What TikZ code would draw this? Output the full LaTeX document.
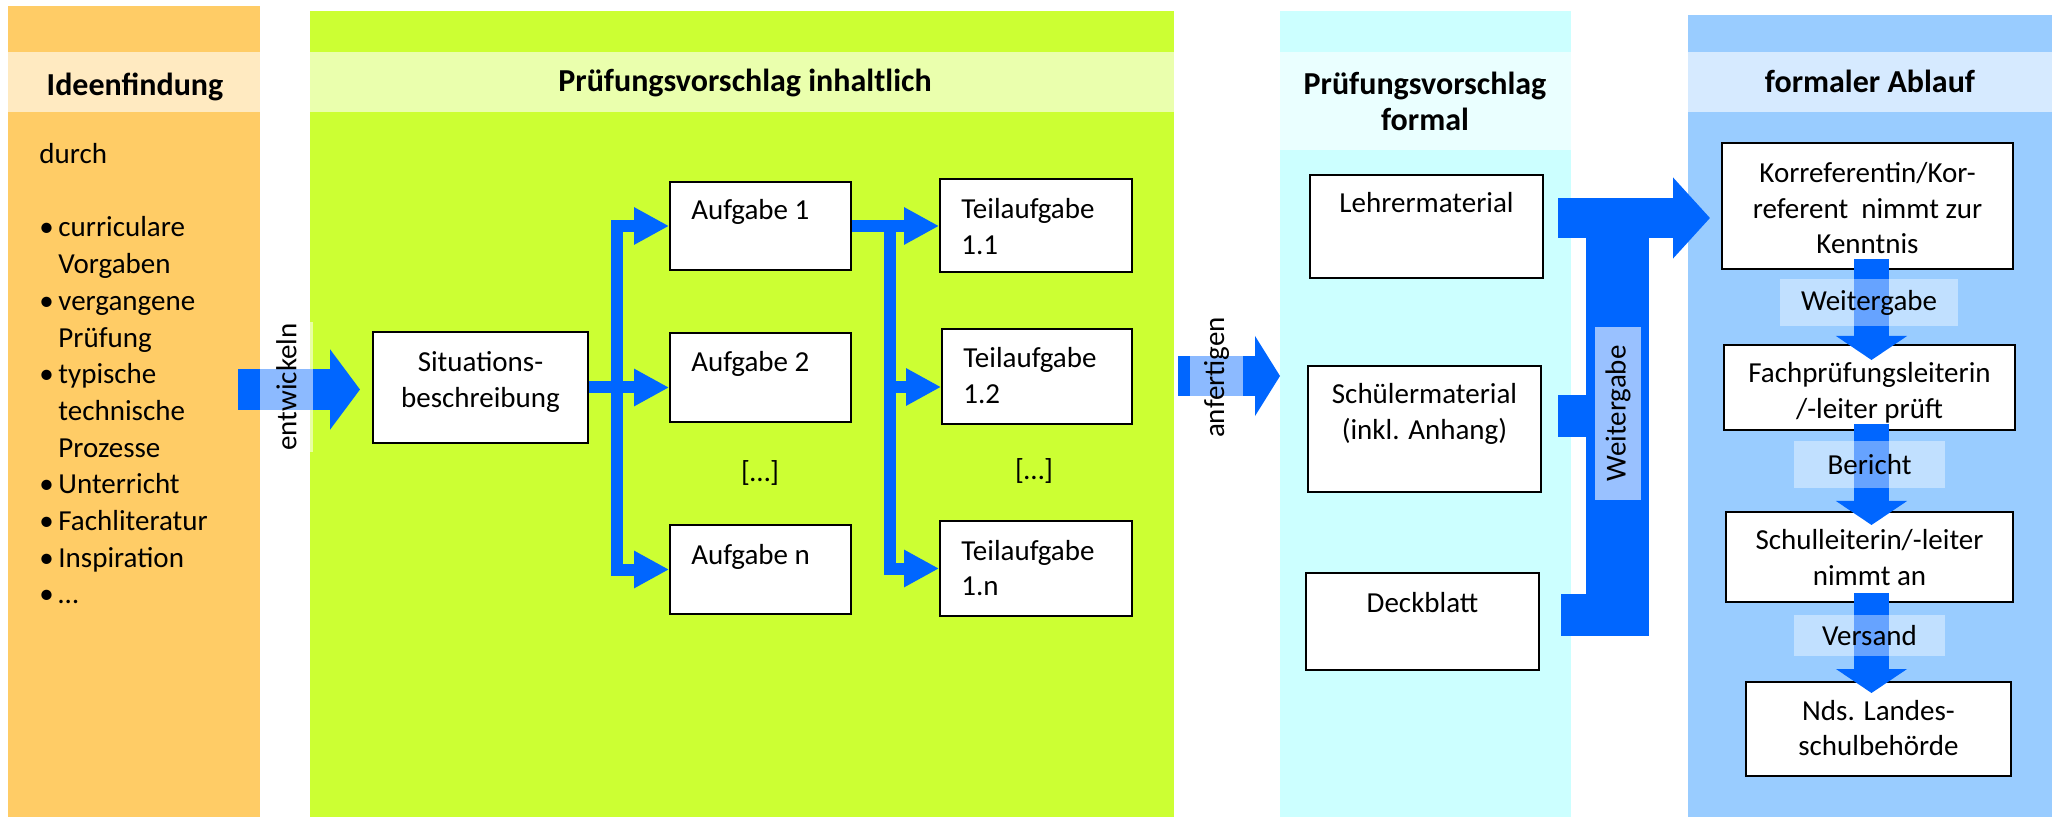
\documentclass[tikz,border=0pt]{standalone}
\usepackage{fontspec}
\setmainfont{Carlito}
\usetikzlibrary{arrows.meta,calc,fit}
\definecolor{colorange}{HTML}{FFCC66}
\definecolor{colgreen}{HTML}{CCFF33}
\definecolor{colcyan}{HTML}{CCFFFF}
\definecolor{colblue}{HTML}{99CCFF}
\definecolor{ablue}{HTML}{0066FF}
\newcommand{\mlc}[1]{\begin{tabular}[t]{@{}c@{}}#1\end{tabular}}
\newcommand{\mll}[1]{\begin{tabular}[t]{@{}l@{}}#1\end{tabular}}
\begin{document}
\begin{tikzpicture}[x=0.5pt,y=-0.5pt,
  body/.style={font=\fontsize{14.5pt}{17.6pt}\selectfont, inner sep=0pt},
  listtxt/.style={font=\fontsize{14.5pt}{18.35pt}\selectfont, inner sep=0pt},
  head/.style={font=\fontsize{16pt}{18pt}\selectfont\bfseries, inner sep=0pt},
  box/.style={draw=black, line width=0.9pt, fill=white, inner sep=0pt},
  band/.style={fill=white, fill opacity=0.6},
  lblbox/.style={fill=white, text opacity=1, inner sep=0pt, draw=none,
    font=\fontsize{14.5pt}{17.6pt}\selectfont},
  thinarrow/.style={draw=ablue, line width=6pt, line join=miter,
    -{Triangle[width=17.5pt,length=17.5pt]}},
  bigarrow/.style={draw=ablue, line width=20pt},
  downarrow/.style={draw=ablue, line width=17.5pt,
    -{Triangle[width=35pt,length=12pt]}}
]
\useasboundingbox (0,0) rectangle (2060,817);
\fill[white] (0,0) rectangle (2060,817);

% columns
\fill[colorange] (8,6) rectangle (260,817);
\fill[colgreen] (310,11) rectangle (1174,817);
\fill[colcyan] (1280,11) rectangle (1571,817);
\fill[colblue] (1688,15) rectangle (2052,817);

% header bands
\fill[band] (8,52) rectangle (260,112);
\fill[band] (310,52) rectangle (1174,112);
\fill[band] (1280,52) rectangle (1571,150);
\fill[band] (1688,52) rectangle (2052,112);

% headings
\node[head, anchor=base] (h1) at (135,96) {Ideenfindung};
\node[head, anchor=base] (h2) at (745,92) {Prüfungsvorschlag inhaltlich};
\node[head, anchor=base] (h3) at (1425,95) {\mlc{Prüfungsvorschlag\\formal}};
\node[head, anchor=base] (h4) at (1870,93) {formaler Ablauf};

% left column text
\node[listtxt, anchor=base west] (durch) at (39,164) {durch};
\node[listtxt, anchor=base west] (ideas) at (39,237) {\begin{tabular}[t]{@{}l@{\hspace{2.3pt}}l@{}}
\textbullet & curriculare\\ & Vorgaben\\
\textbullet & vergangene\\ & Prüfung\\
\textbullet & typische\\ & technische\\ & Prozesse\\
\textbullet & Unterricht\\
\textbullet & Fachliteratur\\
\textbullet & Inspiration\\
\textbullet & …\end{tabular}};

% boxes
\node[box, fit={(373,332)(588,443)}] (sit) {};
\node[box, fit={(670,182)(851,270)}] (a1) {};
\node[box, fit={(670,333)(851,422)}] (a2) {};
\node[box, fit={(670,525)(851,614)}] (an) {};
\node[box, fit={(940,179)(1132,272)}] (t11) {};
\node[box, fit={(942,329)(1132,424)}] (t12) {};
\node[box, fit={(940,521)(1132,616)}] (t1n) {};
\node[box, fit={(1310,175)(1543,278)}] (lehrer) {};
\node[box, fit={(1308,366)(1541,492)}] (schueler) {};
\node[box, fit={(1306,573)(1539,670)}] (deck) {};
\node[box, fit={(1722,143)(2013,269)}] (kor) {};
\node[box, fit={(1724,345)(2015,430)}] (fach) {};
\node[box, fit={(1726,512)(2013,602)}] (schul) {};
\node[box, fit={(1746,682)(2011,776)}] (nds) {};

% thin arrows in the green column
\draw[thinarrow] (sit.east) -- (sit.east -| a2.west);
\draw[thinarrow] (sit.east) -- ++(28,0) |- (a1.west);
\draw[thinarrow] (sit.east) -- ++(28,0) |- (an.west);
\draw[thinarrow] (a1.east) -- (a1.east -| t11.west);
\draw[thinarrow] (a1.east) -- ++(38,0) |- (t1n.west);
\coordinate (tr12) at (889,387);
\draw[thinarrow] (tr12) -- (tr12 -| t12.west);

% block arrows
\coordinate (ent-a) at (238,389.5);
\coordinate (ent-b) at (360,389.5);
\draw[bigarrow, line width=20.5pt, -{Triangle[width=39.5pt,length=15pt]}] (ent-a) -- (ent-b);
\coordinate (anf-a) at (1178,376);
\coordinate (anf-b) at (1280,376);
\draw[bigarrow, -{Triangle[width=39.5pt,length=12.5pt]}] (anf-a) -- (anf-b);
\coordinate (wt-a) at (1558,218);
\coordinate (wt-b) at (1710,218);
\draw[bigarrow, -{Triangle[width=39.5pt,length=18.5pt]}] (wt-a) -- (wt-b);
\fill[ablue] (1586,198) rectangle (1649,636);
\fill[ablue] (1558,395) rectangle (1586,437);
\fill[ablue] (1561,594) rectangle (1586,636);

\draw[downarrow] (1871.5,259) -- (1871.5,360);
\draw[downarrow] (1871.5,424) -- (1871.5,525);
\draw[downarrow] (1871.5,593) -- (1871.5,693);

% labels on arrows
\node[lblbox, rotate=90, fill opacity=0.55, minimum width=65pt, minimum height=26.5pt] (entw) at (286.5,387) {entwickeln};
\node[lblbox, rotate=90, fill opacity=0.55, minimum width=60.5pt, minimum height=26.5pt] (anf) at (1216.5,377.5) {anfertigen};
\node[lblbox, rotate=90, fill opacity=0.6, minimum width=86.5pt, minimum height=23pt] (weit1) at (1618,413.5) {Weitergabe};
\node[lblbox, fill opacity=0.4, minimum width=89pt, minimum height=23.5pt] (weit2) at (1869,302.5) {Weitergabe};
\node[lblbox, fill opacity=0.4, minimum width=75.5pt, minimum height=23.5pt] (ber) at (1869.5,464.5) {Bericht};
\node[lblbox, fill opacity=0.4, minimum width=75.5pt, minimum height=20.5pt] (vers) at (1869.5,635.5) {Versand};

% box texts
\node[body, anchor=base] (sit-t) at (480.5,372) {\mlc{Situations-\\beschreibung}};
\node[body, anchor=base west] (a1-t) at (691,220) {Aufgabe 1};
\node[body, anchor=base west] (a2-t) at (691,372) {Aufgabe 2};
\node[body, anchor=base west] (an-t) at (691,564) {Aufgabe n};
\node[body, anchor=base] (d1) at (760,482) {[…]};
\node[body, anchor=base] (d2) at (1034,480) {[…]};
\node[body, anchor=base west] (t11-t) at (961,219) {\mll{Teilaufgabe\\1.1}};
\node[body, anchor=base west] (t12-t) at (963,368) {\mll{Teilaufgabe\\1.2}};
\node[body, anchor=base west] (t1n-t) at (961,560) {\mll{Teilaufgabe\\1.n}};
\node[body, anchor=base] (lehrer-t) at (1426.5,213) {Lehrermaterial};
\node[body, font=\fontsize{14.5pt}{18pt}\selectfont, anchor=base] (schueler-t) at (1424.5,404) {\mlc{Schülermaterial\\(inkl. Anhang)}};
\node[body, anchor=base] (deck-t) at (1422.5,612) {Deckblatt};
\node[body, font=\fontsize{14.5pt}{17.75pt}\selectfont, anchor=base] (kor-t) at (1867.5,183) {\mlc{Korreferentin/Kor-\\referent~ nimmt zur\\Kenntnis}};
\node[body, anchor=base] (fach-t) at (1869.5,383) {\mlc{Fachprüfungsleiterin\\/-leiter prüft}};
\node[body, anchor=base] (schul-t) at (1869.5,550) {\mlc{Schulleiterin/-leiter\\nimmt an}};
\node[body, anchor=base] (nds-t) at (1878.5,720) {\mlc{Nds. Landes-\\schulbehörde}};
\end{tikzpicture}
\end{document}
